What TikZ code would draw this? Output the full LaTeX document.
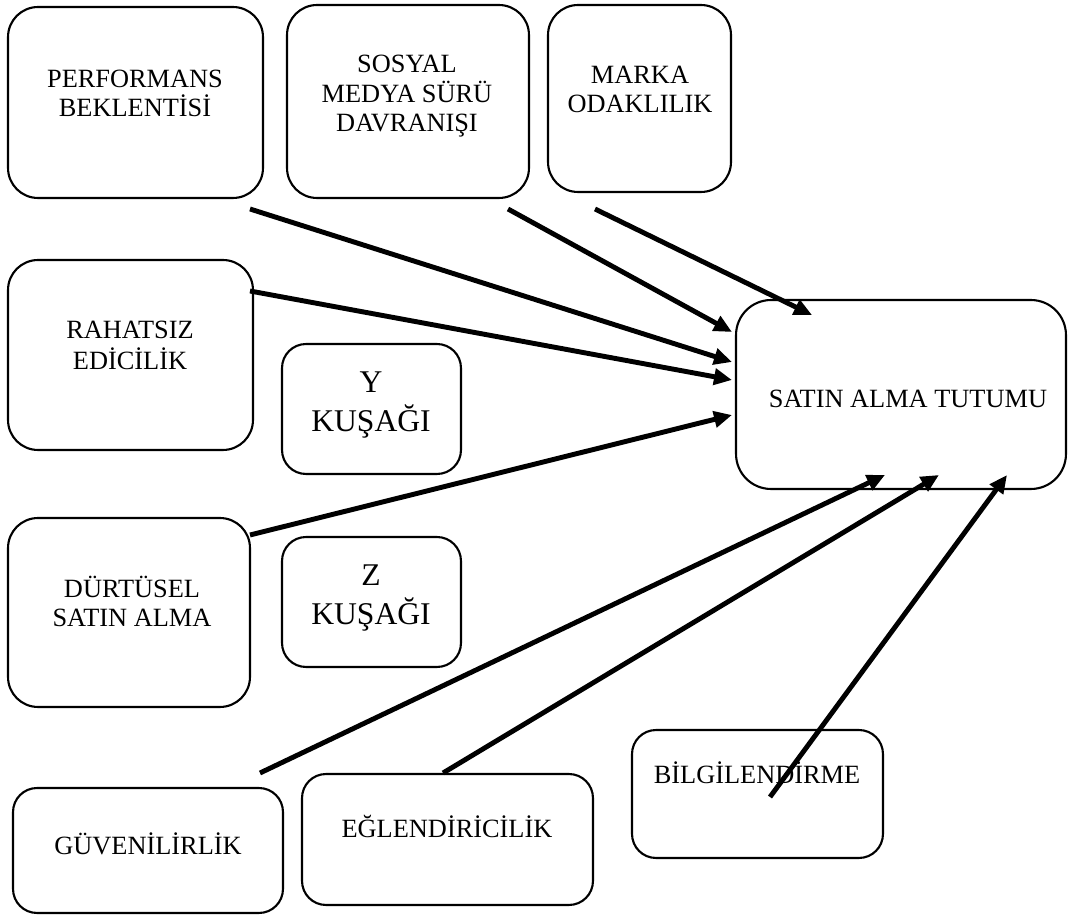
\documentclass[tikz,border=0pt]{standalone}
\usepackage{fontspec}
\setmainfont{Liberation Serif}
\usetikzlibrary{arrows.meta}
\begin{document}
\begin{tikzpicture}[x=0.02cm,y=-0.02cm,
  box/.style={draw, line width=1.2pt, rounded corners=0.6cm, inner sep=0, rectangle},
  sbox/.style={box, rounded corners=0.48cm},
  txt/.style={inner sep=0, align=center, anchor=base, font=\fontsize{15pt}{17pt}\selectfont},
  btxt/.style={inner sep=0, align=center, anchor=base, font=\fontsize{18pt}{22.7pt}\selectfont},
  arr/.style={line width=2.8pt, -{Triangle[length=0.36cm, width=0.32cm]}}]
\useasboundingbox (0,0) rectangle (1073,915);
% boxes
\node[box, minimum width=5.1cm, minimum height=3.82cm] (perf) at (135.5,102.5) {};
\node[box, minimum width=4.84cm, minimum height=3.86cm] (sosyal) at (408,101.5) {};
\node[box, minimum width=3.66cm, minimum height=3.74cm] (marka) at (639.5,98.5) {};
\node[box, minimum width=4.9cm, minimum height=3.8cm] (rahat) at (130.5,355) {};
\node[sbox, minimum width=3.58cm, minimum height=2.6cm] (ykus) at (371.5,409) {};
\node[box, minimum width=4.84cm, minimum height=3.78cm] (durt) at (129,612.5) {};
\node[sbox, minimum width=3.58cm, minimum height=2.6cm] (zkus) at (371.5,602) {};
\node[box, minimum width=6.6cm, minimum height=3.78cm, rounded corners=0.7cm] (tutum) at (901,394.5) {};
\node[sbox, minimum width=5.4cm, minimum height=2.5cm] (guven) at (148,850.5) {};
\node[sbox, minimum width=5.82cm, minimum height=2.62cm] (eglen) at (447.5,839.5) {};
\node[sbox, minimum width=5.02cm, minimum height=2.56cm] (bilgi) at (757.5,794) {};
% texts (base = baseline of the last line)
\node[txt] (tperf) at (135,117) {PERFORMANS\\BEKLENTİSİ};
\node[txt] (tsosyal) at (407,132) {SOSYAL\\MEDYA SÜRÜ\\DAVRANIŞI};
\node[txt] (tmarka) at (640,113) {MARKA\\ODAKLILIK};
\node[txt] (trahat) at (130,370) {RAHATSIZ\\[1pt]EDİCİLİK};
\node[txt] (tdurt) at (132,627) {DÜRTÜSEL\\SATIN ALMA};
\node[btxt] (tykus) at (371,432) {Y\\KUŞAĞI};
\node[btxt] (tzkus) at (371,625) {Z\\KUŞAĞI};
\node[txt] (ttutum) at (908,408) {SATIN ALMA TUTUMU};
\node[txt] (tguven) at (148,855) {GÜVENİLİRLİK};
\node[txt] (teglen) at (447,838) {EĞLENDİRİCİLİK};
\node[txt] (tbilgi) at (757,784) {BİLGİLENDİRME};
% arrow ends
\coordinate (sperf) at (250,209);
\coordinate (ssosyal) at (508,209);
\coordinate (smarka) at (595,209);
\coordinate (srahat) at (250,291);
\coordinate (sdurt) at (250,535);
\coordinate (sguven) at (260,773);
\coordinate (seglen) at (443,773);
\coordinate (sbilgi) at (770,797);
\coordinate (eperf) at (732,362);
\coordinate (esosyal) at (732,332);
\coordinate (emarka) at (812,315);
\coordinate (erahat) at (732,380);
\coordinate (edurt) at (732,415);
\coordinate (eguven) at (885,475);
\coordinate (eeglen) at (939,475);
\coordinate (ebilgi) at (1007,475);
\draw[arr] (sperf) -- (eperf);
\draw[arr] (ssosyal) -- (esosyal);
\draw[arr] (smarka) -- (emarka);
\draw[arr] (srahat) -- (erahat);
\draw[arr] (sdurt) -- (edurt);
\draw[arr] (sguven) -- (eguven);
\draw[arr] (seglen) -- (eeglen);
\draw[arr] (sbilgi) -- (ebilgi);
\end{tikzpicture}
\end{document}
